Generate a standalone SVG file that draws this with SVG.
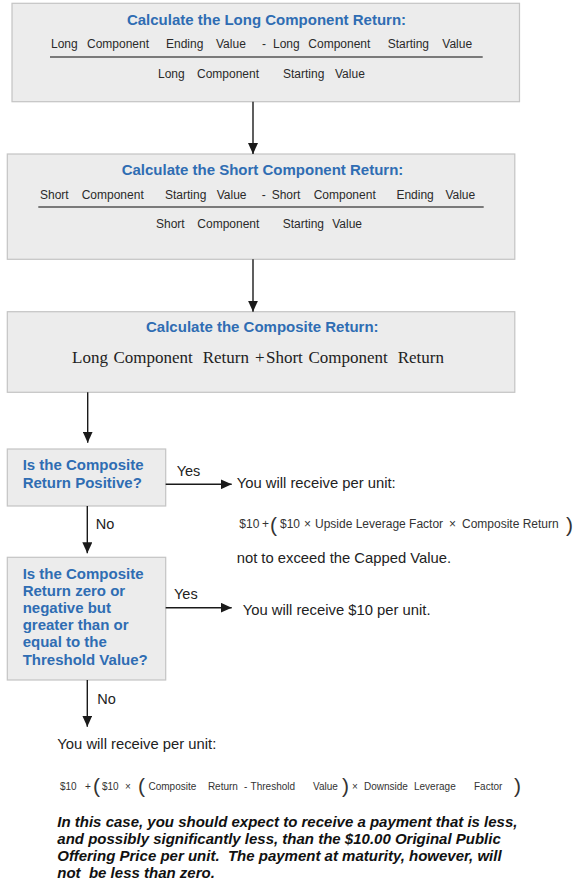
<svg xmlns="http://www.w3.org/2000/svg" width="582" height="884" viewBox="0 0 582 884">
<defs>
<marker id="ah" markerUnits="userSpaceOnUse" markerWidth="11" markerHeight="10" refX="11" refY="5" orient="auto">
<path d="M0,0 L11,5 L0,10 z" fill="#1a1a1a"/>
</marker>
<style>
.box{fill:#ececec;stroke:#c4c4c4;stroke-width:1.2}
.title{font-family:"Liberation Sans",Arial,sans-serif;font-weight:bold;font-size:15px;fill:#2f6db3}
.q{font-family:"Liberation Sans",Arial,sans-serif;font-weight:bold;font-size:15px;fill:#2f6db3}
.eq{font-family:"Liberation Sans",Arial,sans-serif;font-size:12px;fill:#2a2a2a}
.ser{font-family:"Liberation Serif","Times New Roman",serif;font-size:17px;fill:#222}
.lbl{font-family:"Liberation Sans",Arial,sans-serif;font-size:14.5px;fill:#222}
.txt{font-family:"Liberation Sans",Arial,sans-serif;font-size:14.8px;fill:#222}
.f1{font-family:"Liberation Sans",Arial,sans-serif;font-size:12px;fill:#333}
.f2{font-family:"Liberation Sans",Arial,sans-serif;font-size:10px;fill:#333}
.par{font-family:"Liberation Sans",Arial,sans-serif;font-size:21px;fill:#333}
.note{font-family:"Liberation Sans",Arial,sans-serif;font-size:15px;font-weight:bold;font-style:italic;fill:#111;white-space:pre}
.frac{stroke:#555;stroke-width:1.5}
.conn{stroke:#1a1a1a;stroke-width:1.4;fill:none;marker-end:url(#ah)}
</style>
</defs>

<g id="long-return">
<rect class="box" x="12" y="3.3" width="507.5" height="98.4"/>
<text class="title" x="266.5" y="25" text-anchor="middle">Calculate the Long Component Return:</text>
<text class="eq" y="48"><tspan x="51">Long</tspan><tspan x="87">Component</tspan><tspan x="166">Ending</tspan><tspan x="216">Value</tspan><tspan x="262">-</tspan><tspan x="273">Long</tspan><tspan x="308.3">Component</tspan><tspan x="387.7">Starting</tspan><tspan x="442.3">Value</tspan></text>
<line class="frac" x1="50" y1="57" x2="482.7" y2="57"/>
<text class="eq" y="78"><tspan x="158">Long</tspan><tspan x="197">Component</tspan><tspan x="283">Starting</tspan><tspan x="335">Value</tspan></text>
</g>

<g id="short-return">
<rect class="box" x="7.3" y="154" width="507.5" height="105.3"/>
<text class="title" x="262.5" y="175" text-anchor="middle">Calculate the Short Component Return:</text>
<text class="eq" y="199"><tspan x="40">Short</tspan><tspan x="81.7">Component</tspan><tspan x="165">Starting</tspan><tspan x="216.7">Value</tspan><tspan x="261.7">-</tspan><tspan x="271.7">Short</tspan><tspan x="313.7">Component</tspan><tspan x="396.4">Ending</tspan><tspan x="445.4">Value</tspan></text>
<line class="frac" x1="38.3" y1="207" x2="483.7" y2="207"/>
<text class="eq" y="228.3"><tspan x="156">Short</tspan><tspan x="197.3">Component</tspan><tspan x="282.7">Starting</tspan><tspan x="332.2">Value</tspan></text>
</g>

<g id="composite-return">
<rect class="box" x="7.3" y="311.7" width="507.5" height="80.6"/>
<text class="title" x="262.3" y="332.3" text-anchor="middle">Calculate the Composite Return:</text>
<text class="ser" y="363.3"><tspan x="72">Long</tspan><tspan x="113.4">Component</tspan><tspan x="202.7">Return</tspan><tspan x="255">+</tspan><tspan x="266">Short</tspan><tspan x="308.4">Component</tspan><tspan x="397.7">Return</tspan></text>
</g>

<g id="q-positive">
<rect class="box" x="7.3" y="449" width="158.4" height="57"/>
<text class="q" x="22.7" y="470">Is the Composite</text>
<text class="q" x="22.7" y="487.7">Return Positive?</text>
</g>

<g id="r-positive">
<text class="txt" x="236.7" y="488.3">You will receive per unit:</text>
<text class="f1" y="528.3"><tspan x="239.3">$10</tspan><tspan x="262">+</tspan></text>
<text class="par" x="270" y="531.5">(</text>
<text class="f1" y="528.3"><tspan x="280">$10</tspan><tspan x="304">×</tspan><tspan x="315">Upside Leverage Factor</tspan><tspan x="449">×</tspan><tspan x="462">Composite Return</tspan></text>
<text class="par" x="566" y="531.5">)</text>
<text class="txt" x="236.7" y="563.3">not to exceed the Capped Value.</text>
</g>

<g id="q-threshold">
<rect class="box" x="7.3" y="557.3" width="158.4" height="122.7"/>
<text class="q" x="22.7" y="578.5">Is the Composite</text>
<text class="q" x="22.7" y="595.7">Return zero or</text>
<text class="q" x="22.7" y="612.9">negative but</text>
<text class="q" x="22.7" y="630.1">greater than or</text>
<text class="q" x="22.7" y="647.3">equal to the</text>
<text class="q" x="22.7" y="664.5">Threshold Value?</text>
</g>

<g id="r-threshold">
<text class="txt" x="242.7" y="615">You will receive $10 per unit.</text>
</g>

<g id="r-below">
<text class="txt" x="57.3" y="749.3">You will receive per unit:</text>
<text class="f2" y="790"><tspan x="60">$10</tspan><tspan x="85">+</tspan></text>
<text class="par" x="93" y="793">(</text>
<text class="f2" y="790"><tspan x="102">$10</tspan><tspan x="125">×</tspan></text>
<text class="par" x="138" y="793">(</text>
<text class="f2" y="790"><tspan x="148.5">Composite</tspan><tspan x="207.9">Return</tspan><tspan x="244">-</tspan><tspan x="250.6">Threshold</tspan><tspan x="313">Value</tspan></text>
<text class="par" x="342" y="793">)</text>
<text class="f2" y="790"><tspan x="352">×</tspan><tspan x="364">Downside</tspan><tspan x="414">Leverage</tspan><tspan x="474">Factor</tspan></text>
<text class="par" x="514" y="793">)</text>
<text class="note" x="57.3" y="826.5">In this case, you should expect to receive a payment that is less,</text>
<text class="note" x="57.3" y="843.8">and possibly significantly less, than the $10.00 Original Public</text>
<text class="note" x="57.3" y="861">Offering Price per unit.  The payment at maturity, however, will</text>
<text class="note" x="57.3" y="878.2">not  be less than zero.</text>
</g>

<g id="connectors">
<line class="conn" x1="253" y1="101.7" x2="253" y2="154"/>
<line class="conn" x1="253" y1="259.3" x2="253" y2="311.7"/>
<line class="conn" x1="87.7" y1="392.3" x2="87.7" y2="442.7"/>
<line class="conn" x1="165.7" y1="484.3" x2="231.7" y2="484.3"/>
<text class="lbl" x="176.7" y="475.7">Yes</text>
<line class="conn" x1="87.3" y1="506" x2="87.3" y2="553.3"/>
<text class="lbl" x="95.7" y="529.3">No</text>
<line class="conn" x1="165.7" y1="607.7" x2="231.7" y2="607.7"/>
<text class="lbl" x="174" y="599.3">Yes</text>
<line class="conn" x1="87.3" y1="680" x2="87.3" y2="726.7"/>
<text class="lbl" x="97.3" y="704">No</text>
</g>
</svg>
